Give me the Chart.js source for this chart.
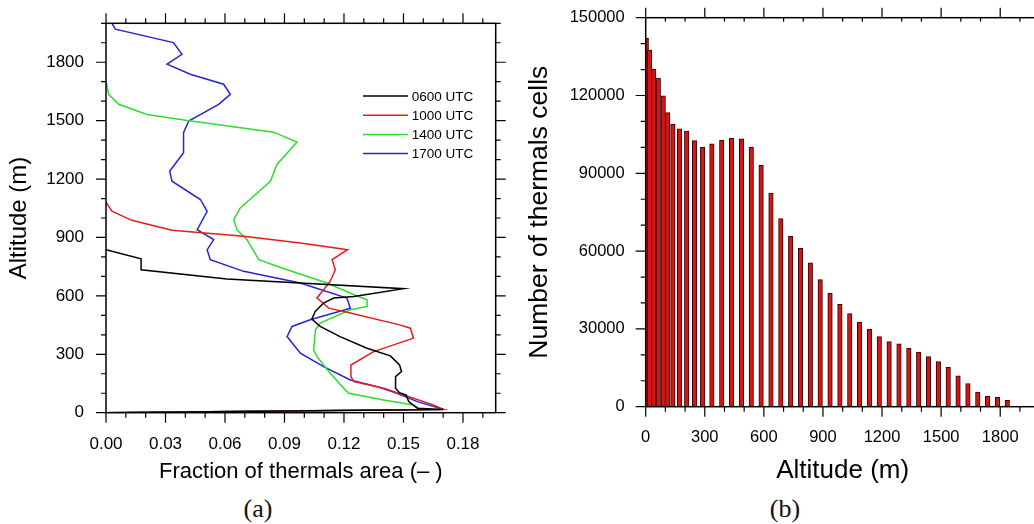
<!DOCTYPE html>
<html>
<head>
<meta charset="utf-8">
<script src="https://cdn.jsdelivr.net/npm/chart.js@4.4.1/dist/chart.umd.min.js"></script>
<style>
  html, body { margin: 0; padding: 0; background: #fff; overflow: hidden; width: 1034px; height: 524px; }
  #wrapA { position: absolute; left: 0; top: 0; width: 520px; height: 490px; }
  #wrapB { position: absolute; left: 520px; top: 0; width: 540px; height: 490px; }
  .cap { position: absolute; top: 496px; width: 100px; text-align: center; line-height: 26px;
         font-family: "Liberation Serif", "DejaVu Serif", serif; font-size: 26px; color: #111; }
</style>
</head>
<body>
<div id="wrapA"><canvas id="chartA" width="520" height="490"></canvas></div>
<div id="wrapB"><canvas id="chartB" width="540" height="490"></canvas></div>
<div class="cap" style="left:208px">(a)</div>
<div class="cap" style="left:735px">(b)</div>

<script>
// ---- panel (a): fraction of thermals area vs altitude ----
const alt0600 = [0, 17, 23, 57, 91, 103, 126, 185, 211, 245, 292, 331, 391, 443, 481, 520, 563, 589, 597, 637, 687, 734, 790, 837];
const frac0600 = [0, 0.170, 0.157, 0.1526, 0.1514, 0.148, 0.146, 0.146, 0.149, 0.148, 0.1434, 0.1316, 0.118, 0.108, 0.1038, 0.1055, 0.1097, 0.1148, 0.125, 0.150, 0.061, 0.0177, 0.0177, 0];

const alt1000 = [0, 17, 40, 126, 160, 185, 245, 314, 383, 434, 451, 512, 537, 589, 674, 734, 786, 837, 872, 906, 937, 988, 1035, 1081];
const frac1000 = [0, 0.170, 0.165, 0.140, 0.125, 0.1235, 0.1235, 0.135, 0.155, 0.1535, 0.148, 0.1232, 0.1123, 0.1064, 0.113, 0.1156, 0.114, 0.1218, 0.098, 0.0694, 0.0333, 0.013, 0.003, 0];

const alt1400 = [0, 17, 40, 65, 100, 117, 203, 288, 323, 426, 460, 529, 546, 580, 606, 666, 734, 786, 889, 940, 992, 1052, 1189, 1275, 1390, 1441, 1501, 1532, 1584, 1635, 1704];
const frac1400 = [0, 0.1585, 0.155, 0.140, 0.1224, 0.1207, 0.113, 0.1064, 0.1047, 0.1056, 0.108, 0.1232, 0.1316, 0.1316, 0.125, 0.1115, 0.0913, 0.077, 0.0711, 0.066, 0.0644, 0.0677, 0.0829, 0.0862, 0.0963, 0.0845, 0.041, 0.0207, 0.0064, 0.0013, 0];

const alt1700 = [0, 17, 57, 100, 134, 168, 237, 306, 391, 443, 477, 537, 589, 666, 726, 786, 837, 889, 940, 1034, 1095, 1189, 1240, 1335, 1404, 1438, 1498, 1584, 1635, 1687, 1738, 1790, 1841, 1901, 1970, 2000];
const frac1700 = [0, 0.170, 0.157, 0.1467, 0.1367, 0.1232, 0.1097, 0.098, 0.0913, 0.0938, 0.103, 0.1232, 0.1215, 0.098, 0.0694, 0.0526, 0.051, 0.0543, 0.046, 0.051, 0.0476, 0.0333, 0.0321, 0.0391, 0.0391, 0.0391, 0.0417, 0.0568, 0.0627, 0.0593, 0.0425, 0.0308, 0.0383, 0.034, 0.0047, 0.003];

const fracTicks = [0, 0.03, 0.06, 0.09, 0.12, 0.15, 0.18];
const altTicksA = [0, 300, 600, 900, 1200, 1500, 1800];

// ---- panel (b): number of thermal cells per level ----
const barAlt = [3, 19, 41, 64, 89, 112, 138, 172, 208, 248, 289, 336, 386, 436, 486, 536, 586, 636, 686, 736, 786, 836, 886, 936, 986, 1036, 1086, 1136, 1186, 1236, 1286, 1336, 1386, 1436, 1486, 1536, 1586, 1636, 1686, 1736, 1786, 1836];
const cellCount = [142000, 137500, 130200, 126700, 119900, 113400, 108900, 107100, 106300, 102600, 100000, 101400, 102700, 103500, 103300, 100000, 93100, 82300, 72500, 65700, 61100, 55500, 49000, 43800, 39500, 35900, 32600, 29900, 27000, 25100, 24200, 22500, 21100, 19300, 17400, 15200, 11900, 8900, 5600, 4000, 3600, 2500];

const altTicksB = [0, 300, 600, 900, 1200, 1500, 1800];
const countTicks = [0, 30000, 60000, 90000, 120000, 150000];

const FONT = '"Liberation Sans", Arial, Helvetica, sans-serif';

const pts = (xs, ys) => xs.map((v, i) => ({ x: v, y: ys[i] }));

// fixed axis box sizes so the plot frame lands where the figure has it
const fixW = w => s => { s.width = w; s.paddingTop = 0; s.paddingBottom = 0; };
const fixH = h => s => { s.height = h; s.paddingLeft = 0; s.paddingRight = 0; };

// box + outward ticks on all four sides (NCL style)
const frameTicks = {
  id: 'frameTicks',
  afterDraw(chart, args, o) {
    const { ctx, chartArea: a, scales: { x, y } } = chart;
    ctx.save();
    ctx.strokeStyle = '#000';
    ctx.lineWidth = 1.5;
    ctx.strokeRect(a.left, a.top, a.right - a.left, a.bottom - a.top);
    ctx.lineWidth = 1.2;
    ctx.beginPath();
    const nx = Math.floor((x.max - x.min) / o.xStep + 1e-6);
    for (let i = 0; i <= nx; i++) {
      const px = x.getPixelForValue(x.min + i * o.xStep);
      const len = i % o.xEvery === 0 ? o.major : o.minor;
      ctx.moveTo(px, a.bottom); ctx.lineTo(px, a.bottom + len);
      if (o.topMinorIn && i % o.xEvery !== 0) {
        ctx.moveTo(px, a.top); ctx.lineTo(px, a.top + 4);
      } else {
        ctx.moveTo(px, a.top); ctx.lineTo(px, a.top - len);
      }
    }
    const ny = Math.floor((y.max - y.min) / o.yStep + 1e-6);
    for (let i = 0; i <= ny; i++) {
      const py = y.getPixelForValue(y.min + i * o.yStep);
      const len = i % o.yEvery === 0 ? o.major : o.minor;
      ctx.moveTo(a.left, py); ctx.lineTo(a.left - len, py);
      ctx.moveTo(a.right, py); ctx.lineTo(a.right + len, py);
    }
    ctx.stroke();
    ctx.restore();
  }
};

// legend drawn inside the plot area of panel (a)
const insideLegend = {
  id: 'insideLegend',
  afterDraw(chart) {
    const { ctx, chartArea: a } = chart;
    ctx.save();
    ctx.font = '13.5px ' + FONT;
    ctx.textBaseline = 'middle';
    ctx.fillStyle = '#000';
    chart.data.datasets.forEach((ds, i) => {
      const yy = a.top + 72.7 + i * 19.2;
      ctx.strokeStyle = ds.borderColor;
      ctx.lineWidth = 1.5;
      ctx.beginPath();
      ctx.moveTo(a.left + 257, yy);
      ctx.lineTo(a.left + 302, yy);
      ctx.stroke();
      ctx.fillText(ds.label, a.left + 305.7, yy + 1);
    });
    ctx.restore();
  }
};

const lineDs = (label, xs, ys, color) => ({
  label: label,
  data: pts(xs, ys),
  showLine: true,
  borderColor: color,
  backgroundColor: color,
  borderWidth: 1.5,
  pointRadius: 0,
  tension: 0
});

new Chart(document.getElementById('chartA'), {
  type: 'scatter',
  data: {
    datasets: [
      lineDs('0600 UTC', frac0600, alt0600, '#000000'),
      lineDs('1000 UTC', frac1000, alt1000, '#e61c1c'),
      lineDs('1400 UTC', frac1400, alt1400, '#2fdc2f'),
      lineDs('1700 UTC', frac1700, alt1700, '#2626cc')
    ]
  },
  options: {
    responsive: false,
    animation: false,
    devicePixelRatio: 1,
    layout: { padding: { left: 0, top: 23.3, right: 24.3, bottom: 0 } },
    plugins: {
      legend: { display: false },
      tooltip: { enabled: false },
      frameTicks: { xStep: 0.01, xEvery: 3, yStep: 100, yEvery: 3, major: 10, minor: 5, topMinorIn: false }
    },
    scales: {
      x: {
        type: 'linear', min: 0, max: 0.1965,
        afterBuildTicks: s => { s.ticks = fracTicks.map(v => ({ value: v })); },
        afterFit: fixH(77.3),
        grid: { display: false, drawTicks: false },
        border: { display: false },
        ticks: { padding: 21, color: '#000', font: { family: FONT, size: 17 }, callback: v => v.toFixed(2), maxRotation: 0 },
        title: { display: true, text: 'Fraction of thermals area (\u2013 )', color: '#000', font: { family: FONT, size: 22 }, padding: { top: 0, bottom: 5 } }
      },
      y: {
        type: 'linear', min: 0, max: 2000,
        afterBuildTicks: s => { s.ticks = altTicksA.map(v => ({ value: v })); },
        afterFit: fixW(106),
        grid: { display: false, drawTicks: false },
        border: { display: false },
        ticks: { padding: 22, color: '#000', font: { family: FONT, size: 17 }, callback: v => String(v) },
        title: { display: true, text: 'Altitude (m)', color: '#000', font: { family: FONT, size: 24 }, padding: { top: 4.6, bottom: 0 } }
      }
    }
  },
  plugins: [frameTicks, insideLegend]
});

new Chart(document.getElementById('chartB'), {
  type: 'bar',
  data: {
    datasets: [{
      label: 'cells',
      data: pts(barAlt, cellCount),
      backgroundColor: '#d41515',
      borderColor: '#3a0000',
      borderWidth: 1,
      barThickness: 4.5
    }]
  },
  options: {
    responsive: false,
    animation: false,
    devicePixelRatio: 1,
    layout: { padding: { left: 0, top: 17.7, right: 20.4, bottom: 0 } },
    plugins: {
      legend: { display: false },
      tooltip: { enabled: false },
      frameTicks: { xStep: 100, xEvery: 3, yStep: 10000, yEvery: 3, major: 10, minor: 5, topMinorIn: true }
    },
    scales: {
      x: {
        type: 'linear', min: 0, max: 2000, offset: false,
        afterBuildTicks: s => { s.ticks = altTicksB.map(v => ({ value: v })); },
        afterFit: fixH(83.3),
        grid: { display: false, drawTicks: false, offset: false },
        border: { display: false },
        ticks: { padding: 20.4, color: '#000', font: { family: FONT, size: 16.5 }, callback: v => String(v), maxRotation: 0 },
        title: { display: true, text: 'Altitude (m)', color: '#000', font: { family: FONT, size: 26 }, padding: { top: 0, bottom: 3.4 } }
      },
      y: {
        type: 'linear', min: 0, max: 150000,
        afterBuildTicks: s => { s.ticks = countTicks.map(v => ({ value: v })); },
        afterFit: fixW(125.7),
        grid: { display: false, drawTicks: false },
        border: { display: false },
        ticks: { padding: 21, color: '#000', font: { family: FONT, size: 16.5 }, callback: v => String(v) },
        title: { display: true, text: 'Number of thermals cells', color: '#000', font: { family: FONT, size: 26.5 }, padding: { top: 4, bottom: 0 } }
      }
    }
  },
  plugins: [frameTicks]
});
</script>
</body>
</html>
